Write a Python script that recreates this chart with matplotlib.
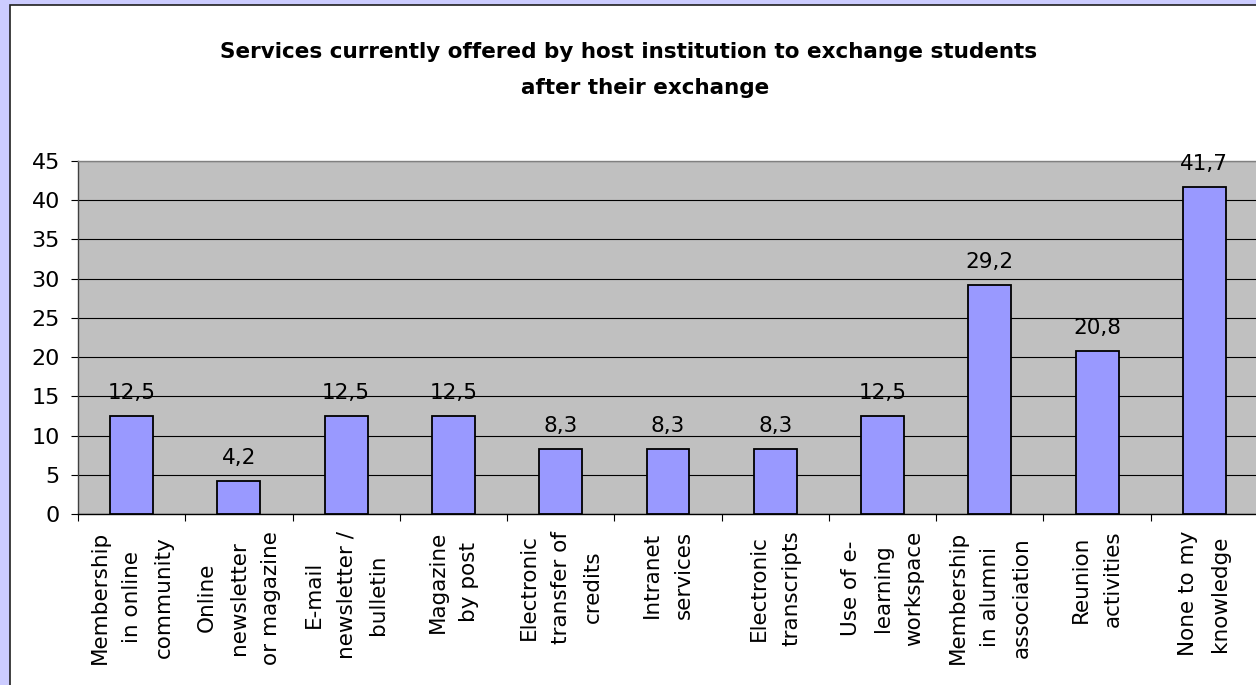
import matplotlib
matplotlib.use("Agg")
import matplotlib.pyplot as plt
from matplotlib.patches import Rectangle
import numpy as np

categories = [
    "Membership\nin online\ncommunity",
    "Online\nnewsletter\nor magazine",
    "E-mail\nnewsletter /\nbulletin",
    "Magazine\nby post",
    "Electronic\ntransfer of\ncredits",
    "Intranet\nservices",
    "Electronic\ntranscripts",
    "Use of e-\nlearning\nworkspace",
    "Membership\nin alumni\nassociation",
    "Reunion\nactivities",
    "None to my\nknowledge",
]
values = [12.5, 4.2, 12.5, 12.5, 8.3, 8.3, 8.3, 12.5, 29.2, 20.8, 41.7]
yticks = [0, 5, 10, 15, 20, 25, 30, 35, 40, 45]
title_line1 = "Services currently offered by host institution to exchange students"
title_line2 = "after their exchange"

plt.rcParams['font.family'] = ['DejaVu Sans']

W, H = 1256, 685
fig = plt.figure(figsize=(W / 100, H / 100), dpi=100, facecolor="#CCCCFF")

# white chart panel
panel = Rectangle((10 / W, -0.1), 1.2, 1 - 5 / H + 0.1, transform=fig.transFigure,
                  facecolor="white", edgecolor="#202020", linewidth=1.2, zorder=-5)
fig.patches.append(panel)

left, right, top, bottom = 78, 1258, 161, 514
ax = fig.add_axes([left / W, 1 - bottom / H, (right - left) / W, (bottom - top) / H])
ax.set_zorder(2)
ax.set_facecolor("#C0C0C0")

x = np.arange(len(values))
bars = ax.bar(x, values, width=0.4, color="#9999FF", edgecolor="black", linewidth=1.3, zorder=3)

for xi, v in zip(x, values):
    ax.annotate(f"{v:.1f}".replace(".", ","), (xi, v), xytext=(0, 12), textcoords="offset points",
                ha="center", va="baseline", fontsize=15.5, color="black", zorder=4,
                annotation_clip=False)

ax.set_xlim(-0.5, len(values) - 0.5)
ax.set_ylim(0, 45)
ax.set_yticks(yticks)
ax.set_yticklabels([str(t) for t in yticks], fontsize=16)
ax.tick_params(axis="y", length=5, width=0.8, pad=8, color="black")

ax.set_xticks(x)
ax.set_xticklabels(categories, rotation=90, fontsize=15.5, ha="center", va="top",
                   multialignment="center", linespacing=1.75)
ax.tick_params(axis="x", which="major", length=0, pad=12)
ax.set_xticks(np.arange(-0.5, len(values), 1.0), minor=True)
ax.tick_params(axis="x", which="minor", length=5, width=0.8, color="black")

ax.set_axisbelow(True)
ax.yaxis.grid(True, color="black", linewidth=0.8)
ax.xaxis.grid(False)

ax.spines["right"].set_visible(False)
ax.spines["top"].set_color("#808080")
ax.spines["top"].set_linewidth(1.0)
ax.spines["left"].set_color("#404040")
ax.spines["left"].set_linewidth(1.0)
ax.spines["bottom"].set_color("black")
ax.spines["bottom"].set_linewidth(1.0)

fig.text(629 / W, 1 - 52 / H, title_line1, ha="center", va="center", fontsize=15.5, fontweight="bold")
fig.text(645 / W, 1 - 88 / H, title_line2, ha="center", va="center", fontsize=15.5, fontweight="bold")

fig.savefig("out.png", dpi=100, facecolor=fig.get_facecolor())
